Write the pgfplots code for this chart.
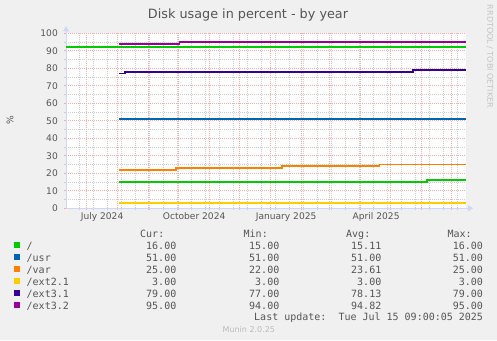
\documentclass[border=0pt]{standalone}
\usepackage{pgfplots}
\pgfplotsset{compat=1.18}
\usetikzlibrary{arrows.meta}
\usepackage{fontspec}
\setmainfont{DejaVu Sans}
\newfontfamily\mono{DejaVu Sans Mono}
\definecolor{bgc}{HTML}{F0F0F0}
\definecolor{fontc}{HTML}{555555}
\definecolor{wmc}{HTML}{C4C4C4}
\definecolor{munc}{HTML}{BBBBBB}
\definecolor{mgrid}{RGB}{244,172,172}
\definecolor{ngrid}{RGB}{205,205,205}
\definecolor{axc}{HTML}{CFD6F8}
\definecolor{serRoot}{HTML}{00CC00}
\definecolor{serUsr}{HTML}{0066B3}
\definecolor{serVar}{HTML}{FF8000}
\definecolor{serExtA}{HTML}{FFCC00}
\definecolor{serExtB}{HTML}{330099}
\definecolor{serExtC}{HTML}{990099}
\begin{document}
\begin{tikzpicture}
\fill[bgc] (0,0) rectangle (497pt,340pt);
\useasboundingbox (0,0) rectangle (497pt,340pt);
\begin{axis}[
  at={(66pt,131.7pt)}, anchor=south west,
  scale only axis, width=400pt, height=175pt,
  xmin=0, xmax=400, ymin=0, ymax=100,
  axis background/.style={fill=white},
  axis x line=bottom, axis y line=left,
  axis line style={draw=axc, line width=1pt},
  x axis line style={-{Triangle[length=5pt,width=6pt]}, shorten >=-7pt},
  y axis line style={-{Triangle[length=5pt,width=6pt]}, shorten >=-7pt},
  xtick={20.625,51.625,82.625,112.625,143.625,173.625,204.625,235.625,263.625,294.625,324.625,355.625,385.625},
  xticklabels={},
  minor xtick={13.625,27.625,41.625,55.625,69.625,83.625,97.625,111.625,125.625,139.625,153.625,167.625,181.625,195.625,209.625,223.625,237.625,251.625,265.625,279.625,293.625,307.625,321.625,335.625,349.625,363.625,377.625,391.625},
  extra x ticks={36.125,128.125,220.125,310.125},
  extra x tick labels={July 2024,October 2024,January 2025,April 2025},
  extra x tick style={grid=none, major tick length=0pt},
  ytick={0,10,...,100},
  minor ytick={5,15,...,95},
  grid=both,
  major grid style={draw=mgrid, line width=0.7pt, dash pattern=on 1pt off 1pt},
  minor grid style={draw=ngrid, line width=0.7pt, dash pattern=on 1pt off 1pt},
  tick align=outside, major tick length=2pt, minor tick length=2pt,
  major tick style={draw=mgrid, line width=0.7pt},
  minor tick style={draw=ngrid, line width=0.7pt},
  ticklabel style={font=\fontsize{9.1}{11}\selectfont, text=fontc},
  /pgf/number format/assume math mode=true,
  yticklabel style={anchor=east, inner sep=0pt, xshift=-6pt},
  xticklabel style={anchor=base, inner sep=0pt, yshift=-11.1pt},
  every axis plot/.append style={line width=1.6pt, solid, mark=none},
]
\addplot[draw=serRoot] coordinates {(53,15) (360.7,15) (360.7,16) (399.5,16)};
\addplot[draw=serUsr] coordinates {(53,51) (399.5,51)};
\addplot[draw=serVar] coordinates {(53,22) (110,22) (110,23) (216,23) (216,24) (313.3,24) (313.3,25) (399.5,25)};
\addplot[draw=serExtA] coordinates {(53,3) (399.5,3)};
\addplot[draw=serExtB] coordinates {(53,77) (59,77) (59,78) (346.7,78) (346.7,79) (399.5,79)};
\addplot[draw=serExtC] coordinates {(53,94) (113.3,94) (113.3,95) (399.5,95)};
\addplot[draw=serRoot, line width=1.7pt] coordinates {(0,92) (400,92)};
\end{axis}
\begin{scope}[x=1pt,y=-1pt,yshift=340pt]
 \node[anchor=base, font=\fontsize{12.8}{14}\selectfont, text=fontc, inner sep=0] at (248,18.3) {Disk usage in percent - by year};
 \node[rotate=90, font=\fontsize{9.1}{11}\selectfont, text=fontc, inner sep=0] at (10,120.5) {\%};
 \node[rotate=-90, font=\fontsize{8}{10}\selectfont, text=wmc, inner sep=0] at (490,56.5) {RRDTOOL / TOBI OETIKER};
 \node[anchor=base, font=\fontsize{8}{10}\selectfont, text=munc, inner sep=0] at (248.8,332.3) {Munin 2.0.25};
 \begin{scope}[every node/.style={font=\mono\fontsize{10}{12}\selectfont, text=fontc, inner sep=0}]
  \node[anchor=base west] at (140,237.3) {Cur:};
  \node[anchor=base west] at (243.5,237.3) {Min:};
  \node[anchor=base west] at (346,237.3) {Avg:};
  \node[anchor=base west] at (447.3,237.3) {Max:};
  \fill[serRoot] (14,242.3) rectangle (20,248.3);
  \fill[serUsr] (14,254.3) rectangle (20,260.3);
  \fill[serVar] (14,266.3) rectangle (20,272.3);
  \fill[serExtA] (14,278.3) rectangle (20,284.3);
  \fill[serExtB] (14,290.3) rectangle (20,296.3);
  \fill[serExtC] (14,302.3) rectangle (20,308.3);
  \node[anchor=base west] at (26.5,249) {/};
  \node[anchor=base west] at (26.5,261) {/usr};
  \node[anchor=base west] at (26.5,273) {/var};
  \node[anchor=base west] at (26.5,285) {/ext2.1};
  \node[anchor=base west] at (26.5,297) {/ext3.1};
  \node[anchor=base west] at (26.5,309) {/ext3.2};
  \node[anchor=base east] at (176.5,249) {16.00};
  \node[anchor=base east] at (176.5,261) {51.00};
  \node[anchor=base east] at (176.5,273) {25.00};
  \node[anchor=base east] at (176.5,285) {3.00};
  \node[anchor=base east] at (176.5,297) {79.00};
  \node[anchor=base east] at (176.5,309) {95.00};
  \node[anchor=base east] at (279.5,249) {15.00};
  \node[anchor=base east] at (279.5,261) {51.00};
  \node[anchor=base east] at (279.5,273) {22.00};
  \node[anchor=base east] at (279.5,285) {3.00};
  \node[anchor=base east] at (279.5,297) {77.00};
  \node[anchor=base east] at (279.5,309) {94.00};
  \node[anchor=base east] at (381.5,249) {15.11};
  \node[anchor=base east] at (381.5,261) {51.00};
  \node[anchor=base east] at (381.5,273) {23.61};
  \node[anchor=base east] at (381.5,285) {3.00};
  \node[anchor=base east] at (381.5,297) {78.13};
  \node[anchor=base east] at (381.5,309) {94.82};
  \node[anchor=base east] at (483.2,249) {16.00};
  \node[anchor=base east] at (483.2,261) {51.00};
  \node[anchor=base east] at (483.2,273) {25.00};
  \node[anchor=base east] at (483.2,285) {3.00};
  \node[anchor=base east] at (483.2,297) {79.00};
  \node[anchor=base east] at (483.2,309) {95.00};
  \node[anchor=base east] at (483.2,320.7) {Last update:\ \ Tue Jul 15 09:00:05 2025};
 \end{scope}
\end{scope}
\end{tikzpicture}
\end{document}
